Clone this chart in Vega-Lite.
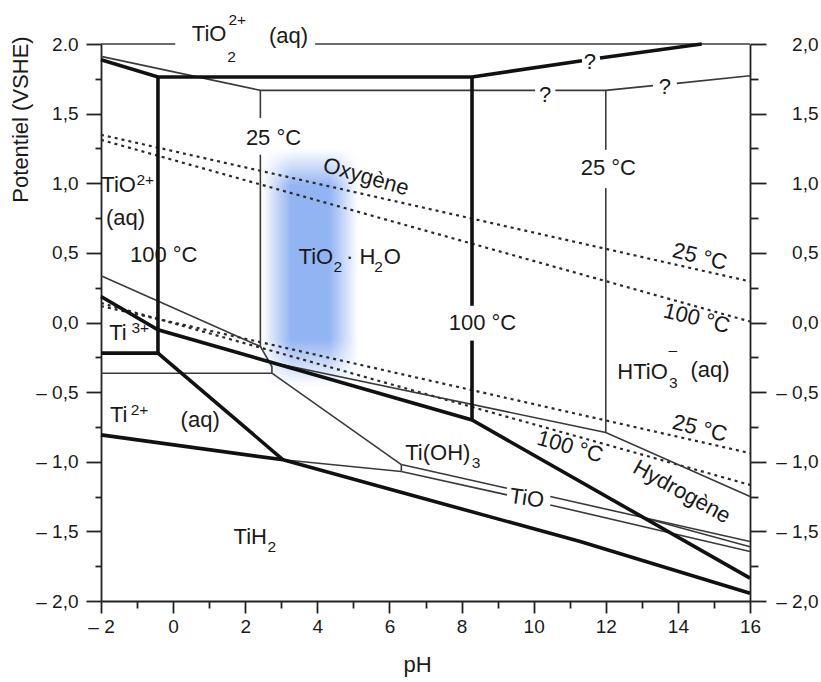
{
  "$schema": "https://vega.github.io/schema/vega-lite/v6.json",
  "width": 649,
  "height": 557,
  "autosize": "none",
  "padding": {"left": 101, "top": 44, "right": 71, "bottom": 81},
  "background": "white",
  "config": {
    "view": {"stroke": null},
    "font": "Liberation Sans",
    "axis": {
      "grid": false,
      "domainColor": "#222",
      "domainWidth": 1.8,
      "tickColor": "#222",
      "tickWidth": 1.8,
      "labelFont": "Liberation Sans",
      "labelFontSize": 19,
      "labelColor": "#1a1a1a",
      "titleFont": "Liberation Sans",
      "titleFontSize": 22,
      "titleFontWeight": "normal",
      "titleColor": "#1a1a1a"
    },
    "text": {"font": "Liberation Sans", "color": "#1a1a1a", "baseline": "middle", "align": "center"}
  },
  "datasets": {
    "lines": [
      {"line": "top1", "style": "thin", "order": 1, "pH": -2, "E": 2.0},
      {"line": "top1", "style": "thin", "order": 2, "pH": 0.06, "E": 2.0},
      {"line": "top2", "style": "thin", "order": 1, "pH": 3.94, "E": 2.0},
      {"line": "top2", "style": "thin", "order": 2, "pH": 16, "E": 2.0},
      {"line": "T2a", "style": "thin", "order": 1, "pH": -2, "E": 1.911},
      {"line": "T2a", "style": "thin", "order": 2, "pH": 2.42, "E": 1.667},
      {"line": "T2a", "style": "thin", "order": 3, "pH": 10.04, "E": 1.667},
      {"line": "T2b", "style": "thin", "order": 1, "pH": 10.6, "E": 1.667},
      {"line": "T2b", "style": "thin", "order": 2, "pH": 12.0, "E": 1.667},
      {"line": "T2b", "style": "thin", "order": 3, "pH": 13.31, "E": 1.701},
      {"line": "T2c", "style": "thin", "order": 1, "pH": 13.97, "E": 1.717},
      {"line": "T2c", "style": "thin", "order": 2, "pH": 16, "E": 1.772},
      {"line": "V2a", "style": "thin", "order": 1, "pH": 2.42, "E": 1.667},
      {"line": "V2a", "style": "thin", "order": 2, "pH": 2.42, "E": 1.468},
      {"line": "V2b", "style": "thin", "order": 1, "pH": 2.42, "E": 1.205},
      {"line": "V2b", "style": "thin", "order": 2, "pH": 2.42, "E": -0.172},
      {"line": "V4a", "style": "thin", "order": 1, "pH": 12, "E": 1.667},
      {"line": "V4a", "style": "thin", "order": 2, "pH": 12, "E": 1.24},
      {"line": "V4b", "style": "thin", "order": 1, "pH": 12, "E": 0.965},
      {"line": "V4b", "style": "thin", "order": 2, "pH": 12, "E": -0.79},
      {"line": "H2", "style": "thin", "order": 1, "pH": -2, "E": -0.364},
      {"line": "H2", "style": "thin", "order": 2, "pH": 2.74, "E": -0.364},
      {"line": "D", "style": "thin", "order": 1, "pH": -2, "E": 0.335},
      {"line": "D", "style": "thin", "order": 2, "pH": 2.42, "E": -0.172},
      {"line": "D", "style": "thin", "order": 3, "pH": 2.74, "E": -0.316},
      {"line": "D", "style": "thin", "order": 4, "pH": 2.74, "E": -0.364},
      {"line": "G2", "style": "thin", "order": 1, "pH": 2.74, "E": -0.364},
      {"line": "G2", "style": "thin", "order": 2, "pH": 6.33, "E": -1.02},
      {"line": "E1", "style": "thin", "order": 1, "pH": 2.74, "E": -0.287},
      {"line": "E1", "style": "thin", "order": 2, "pH": 12, "E": -0.79},
      {"line": "E1", "style": "thin", "order": 3, "pH": 16, "E": -1.25},
      {"line": "B", "style": "thin", "order": 1, "pH": 3.05, "E": -0.986},
      {"line": "B", "style": "thin", "order": 2, "pH": 6.33, "E": -1.07},
      {"line": "V5", "style": "thin", "order": 1, "pH": 6.33, "E": -1.02},
      {"line": "V5", "style": "thin", "order": 2, "pH": 6.33, "E": -1.07},
      {"line": "P1a", "style": "thin", "order": 1, "pH": 6.33, "E": -1.02},
      {"line": "P1a", "style": "thin", "order": 2, "pH": 9.26, "E": -1.19},
      {"line": "P1b", "style": "thin", "order": 1, "pH": 10.46, "E": -1.25},
      {"line": "P1b", "style": "thin", "order": 2, "pH": 16, "E": -1.573},
      {"line": "P2a", "style": "thin", "order": 1, "pH": 6.33, "E": -1.07},
      {"line": "P2a", "style": "thin", "order": 2, "pH": 9.26, "E": -1.238},
      {"line": "P2b", "style": "thin", "order": 1, "pH": 10.46, "E": -1.31},
      {"line": "P2b", "style": "thin", "order": 2, "pH": 16, "E": -1.645},
      {"line": "P3", "style": "thin", "order": 1, "pH": 13.0, "E": -1.398},
      {"line": "P3", "style": "thin", "order": 2, "pH": 16, "E": -1.611},
      {"line": "T1a", "style": "thick", "order": 1, "pH": -2, "E": 1.887},
      {"line": "T1a", "style": "thick", "order": 2, "pH": -0.42, "E": 1.763},
      {"line": "T1a", "style": "thick", "order": 3, "pH": 8.29, "E": 1.763},
      {"line": "T1a", "style": "thick", "order": 4, "pH": 11.34, "E": 1.88},
      {"line": "T1b", "style": "thick", "order": 1, "pH": 11.84, "E": 1.899},
      {"line": "T1b", "style": "thick", "order": 2, "pH": 14.66, "E": 2.0},
      {"line": "V1", "style": "thick", "order": 1, "pH": -0.42, "E": 1.763},
      {"line": "V1", "style": "thick", "order": 2, "pH": -0.42, "E": -0.22},
      {"line": "V3a", "style": "thick", "order": 1, "pH": 8.29, "E": 1.763},
      {"line": "V3a", "style": "thick", "order": 2, "pH": 8.29, "E": 0.12},
      {"line": "V3b", "style": "thick", "order": 1, "pH": 8.29, "E": -0.13},
      {"line": "V3b", "style": "thick", "order": 2, "pH": 8.29, "E": -0.7},
      {"line": "H1", "style": "thick", "order": 1, "pH": -2, "E": -0.22},
      {"line": "H1", "style": "thick", "order": 2, "pH": -0.42, "E": -0.22},
      {"line": "G1", "style": "thick", "order": 1, "pH": -0.42, "E": -0.22},
      {"line": "G1", "style": "thick", "order": 2, "pH": 3.05, "E": -0.986},
      {"line": "C", "style": "thick", "order": 1, "pH": -2, "E": 0.187},
      {"line": "C", "style": "thick", "order": 2, "pH": -0.42, "E": -0.052},
      {"line": "C", "style": "thick", "order": 3, "pH": 8.29, "E": -0.7},
      {"line": "C", "style": "thick", "order": 4, "pH": 16, "E": -1.836},
      {"line": "A", "style": "thick", "order": 1, "pH": -2, "E": -0.807},
      {"line": "A", "style": "thick", "order": 2, "pH": 3.05, "E": -0.986},
      {"line": "A", "style": "thick", "order": 3, "pH": 5.74, "E": -1.178},
      {"line": "A", "style": "thick", "order": 4, "pH": 11.29, "E": -1.573},
      {"line": "A", "style": "thick", "order": 5, "pH": 16, "E": -1.944},
      {"line": "O25", "style": "dash", "order": 1, "pH": -2, "E": 1.348},
      {"line": "O25", "style": "dash", "order": 2, "pH": 16, "E": 0.295},
      {"line": "O100", "style": "dash", "order": 1, "pH": -2, "E": 1.312},
      {"line": "O100", "style": "dash", "order": 2, "pH": 16, "E": 0.007},
      {"line": "H25", "style": "dash", "order": 1, "pH": -2, "E": 0.118},
      {"line": "H25", "style": "dash", "order": 2, "pH": 16, "E": -0.938},
      {"line": "H100", "style": "dash", "order": 1, "pH": -2, "E": 0.14},
      {"line": "H100", "style": "dash", "order": 2, "pH": 16, "E": -1.166}
    ],
    "labels": [
      {"t": "TiO", "pH": 1.0, "E": 2.072, "g": "main"},
      {"t": "(aq)", "pH": 3.2, "E": 2.059, "g": "main"},
      {"t": "25 °C", "pH": 2.785, "E": 1.323, "g": "main"},
      {"t": "TiO", "pH": -1.51, "E": 0.99, "g": "main"},
      {"t": "(aq)", "pH": -1.32, "E": 0.748, "g": "main"},
      {"t": "100 °C", "pH": -0.26, "E": 0.485, "g": "main"},
      {"t": "TiO", "pH": 3.96, "E": 0.473, "g": "main"},
      {"t": "· H", "pH": 5.2, "E": 0.473, "g": "main"},
      {"t": "O", "pH": 6.08, "E": 0.473, "g": "main"},
      {"t": "25 °C", "pH": 12.07, "E": 1.107, "g": "main"},
      {"t": "?", "pH": 11.56, "E": 1.873, "g": "main"},
      {"t": "?", "pH": 10.32, "E": 1.634, "g": "main"},
      {"t": "?", "pH": 13.64, "E": 1.689, "g": "main"},
      {"t": "100 °C", "pH": 8.58, "E": -0.006, "g": "main"},
      {"t": "HTiO", "pH": 13.02, "E": -0.353, "g": "main"},
      {"t": "(aq)", "pH": 14.89, "E": -0.341, "g": "main"},
      {"t": "Ti(OH)", "pH": 7.34, "E": -0.939, "g": "main"},
      {"t": "Ti", "pH": -1.53, "E": -0.078, "g": "main"},
      {"t": "Ti", "pH": -1.51, "E": -0.664, "g": "main"},
      {"t": "(aq)", "pH": 0.75, "E": -0.7, "g": "main"},
      {"t": "TiH", "pH": 2.14, "E": -1.538, "g": "main"},
      {"t": "2+", "pH": 1.78, "E": 2.172, "g": "small"},
      {"t": "2", "pH": 1.62, "E": 1.909, "g": "small"},
      {"t": "2+", "pH": -0.77, "E": 1.023, "g": "small"},
      {"t": "2", "pH": 4.57, "E": 0.401, "g": "small"},
      {"t": "2", "pH": 5.7, "E": 0.401, "g": "small"},
      {"t": "3", "pH": 13.87, "E": -0.437, "g": "small"},
      {"t": "–", "pH": 13.86, "E": -0.197, "g": "small"},
      {"t": "3", "pH": 8.4, "E": -1.011, "g": "small"},
      {"t": "3+", "pH": -0.91, "E": -0.042, "g": "small"},
      {"t": "2+", "pH": -0.93, "E": -0.628, "g": "small"},
      {"t": "2", "pH": 2.74, "E": -1.61, "g": "small"},
      {"t": "Oxygène", "pH": 5.35, "E": 1.047, "g": "r16"},
      {"t": "25 °C", "pH": 14.61, "E": 0.473, "g": "r14"},
      {"t": "100 °C", "pH": 14.52, "E": 0.03, "g": "r14"},
      {"t": "25 °C", "pH": 14.61, "E": -0.76, "g": "r14"},
      {"t": "100 °C", "pH": 11.01, "E": -0.892, "g": "r16"},
      {"t": "Hydrogène", "pH": 14.11, "E": -1.215, "g": "r29"},
      {"t": "TiO", "pH": 9.81, "E": -1.262, "g": "r8"}
    ],
    "shade": [
      {"part": "core", "pH": 2.47, "pH2": 5.13, "E": 1.24, "E2": -0.45},
      {"part": "top", "pH": 2.47, "pH2": 5.13, "E": 1.245, "E2": 0.98},
      {"part": "bottom", "pH": 2.47, "pH2": 5.13, "E": -0.12, "E2": -0.455}
    ]
  },
  "encoding": {
    "x": {
      "field": "pH", "type": "quantitative",
      "scale": {"domain": [-2, 16], "nice": false, "zero": false},
      "axis": {
        "values": [-2, -1, 0, 1, 2, 3, 4, 5, 6, 7, 8, 9, 10, 11, 12, 13, 14, 15, 16],
        "labelExpr": "datum.value % 2 != 0 ? '' : (datum.value < 0 ? '– ' + abs(datum.value) : '' + datum.value)",
        "tickSize": {"condition": {"test": "datum.value % 2 == 0", "value": 12}, "value": 7},
        "labelPadding": 4,
        "labelFlush": false,
        "labelOverlap": false,
        "title": "pH",
        "titleX": 316,
        "titleY": 70,
        "titleAlign": "center",
        "titleBaseline": "alphabetic"
      }
    },
    "y": {
      "field": "E", "type": "quantitative",
      "scale": {"domain": [-2, 2], "nice": false, "zero": false},
      "axis": null
    }
  },
  "resolve": {"axis": {"y": "independent"}},
  "layer": [
    {
      "data": {"name": "shade"},
      "transform": [{"filter": "datum.part == 'core'"}],
      "mark": {"type": "rect", "color": {"gradient": "linear", "x1": 0, "y1": 0, "x2": 1, "y2": 0, "stops": [
        {"offset": 0, "color": "rgba(143,177,241,0)"},
        {"offset": 0.3, "color": "#93b4f2"},
        {"offset": 0.7, "color": "#93b4f2"},
        {"offset": 1, "color": "rgba(143,177,241,0)"}
      ]}},
      "encoding": {"x2": {"field": "pH2"}, "y2": {"field": "E2"}}
    },
    {
      "data": {"name": "shade"},
      "transform": [{"filter": "datum.part == 'top'"}],
      "mark": {"type": "rect", "color": {"gradient": "linear", "x1": 0, "y1": 0, "x2": 0, "y2": 1, "stops": [
        {"offset": 0, "color": "rgba(255,255,255,1)"},
        {"offset": 1, "color": "rgba(255,255,255,0)"}
      ]}},
      "encoding": {"x2": {"field": "pH2"}, "y2": {"field": "E2"}}
    },
    {
      "data": {"name": "shade"},
      "transform": [{"filter": "datum.part == 'bottom'"}],
      "mark": {"type": "rect", "color": {"gradient": "linear", "x1": 0, "y1": 0, "x2": 0, "y2": 1, "stops": [
        {"offset": 0, "color": "rgba(255,255,255,0)"},
        {"offset": 1, "color": "rgba(255,255,255,1)"}
      ]}},
      "encoding": {"x2": {"field": "pH2"}, "y2": {"field": "E2"}}
    },
    {
      "data": {"name": "lines"},
      "transform": [{"filter": "datum.style == 'dash'"}],
      "mark": {"type": "line", "color": "#2a2a2a", "strokeWidth": 2.2, "strokeDash": [3, 4]},
      "encoding": {"detail": {"field": "line"}, "order": {"field": "order"}}
    },
    {
      "data": {"name": "lines"},
      "transform": [{"filter": "datum.style == 'thin'"}],
      "mark": {"type": "line", "color": "#3a3a3a", "strokeWidth": 1.6},
      "encoding": {
        "detail": {"field": "line"},
        "order": {"field": "order"},
        "y": {
          "field": "E", "type": "quantitative",
          "scale": {"domain": [-2, 2], "nice": false, "zero": false},
          "axis": {
            "orient": "left",
            "values": [-2, -1.75, -1.5, -1.25, -1, -0.75, -0.5, -0.25, 0, 0.25, 0.5, 0.75, 1, 1.25, 1.5, 1.75, 2],
            "labelExpr": "datum.value > 1.99 ? '2.0' : (abs(datum.value * 2 - round(datum.value * 2)) > 0.01 ? '' : ((datum.value < -0.01 ? '– ' : '') + replace(format(abs(datum.value), '.1f'), '.', ',')))",
            "tickSize": {"condition": {"test": "abs(datum.value * 2 - round(datum.value * 2)) < 0.01", "value": 15}, "value": 6},
            "labelPadding": 8,
            "labelFlush": false,
            "labelOverlap": false,
            "title": "Potentiel (VSHE)",
            "titleX": -69,
            "titleY": 75,
            "titleAngle": -90,
            "titleAlign": "center",
            "titleBaseline": "bottom"
          }
        }
      }
    },
    {
      "data": {"name": "lines"},
      "transform": [{"filter": "datum.style == 'thick'"}],
      "mark": {"type": "line", "color": "#111", "strokeWidth": 3.6, "strokeJoin": "miter"},
      "encoding": {
        "detail": {"field": "line"},
        "order": {"field": "order"},
        "y": {
          "field": "E", "type": "quantitative",
          "scale": {"domain": [-2, 2], "nice": false, "zero": false},
          "axis": {
            "orient": "right",
            "values": [-2, -1.75, -1.5, -1.25, -1, -0.75, -0.5, -0.25, 0, 0.25, 0.5, 0.75, 1, 1.25, 1.5, 1.75, 2],
            "labelExpr": "abs(datum.value * 2 - round(datum.value * 2)) > 0.01 ? '' : ((datum.value < -0.01 ? '– ' : '') + replace(format(abs(datum.value), '.1f'), '.', ','))",
            "tickSize": {"condition": {"test": "abs(datum.value * 2 - round(datum.value * 2)) < 0.01", "value": 16}, "value": 8},
            "labelAlign": "right",
            "labelPadding": 52,
            "labelFlush": false,
            "labelOverlap": false,
            "title": null
          }
        }
      }
    },
    {
      "data": {"name": "labels"},
      "transform": [{"filter": "datum.g == 'main'"}],
      "mark": {"type": "text", "fontSize": 22},
      "encoding": {"text": {"field": "t"}}
    },
    {
      "data": {"name": "labels"},
      "transform": [{"filter": "datum.g == 'small'"}],
      "mark": {"type": "text", "fontSize": 15.5},
      "encoding": {"text": {"field": "t"}}
    },
    {
      "data": {"name": "labels"},
      "transform": [{"filter": "datum.g == 'r14'"}],
      "mark": {"type": "text", "fontSize": 22, "angle": 14},
      "encoding": {"text": {"field": "t"}}
    },
    {
      "data": {"name": "labels"},
      "transform": [{"filter": "datum.g == 'r16'"}],
      "mark": {"type": "text", "fontSize": 22, "angle": 16},
      "encoding": {"text": {"field": "t"}}
    },
    {
      "data": {"name": "labels"},
      "transform": [{"filter": "datum.g == 'r29'"}],
      "mark": {"type": "text", "fontSize": 22, "angle": 29},
      "encoding": {"text": {"field": "t"}}
    },
    {
      "data": {"name": "labels"},
      "transform": [{"filter": "datum.g == 'r8'"}],
      "mark": {"type": "text", "fontSize": 22, "angle": 8},
      "encoding": {"text": {"field": "t"}}
    }
  ]
}
